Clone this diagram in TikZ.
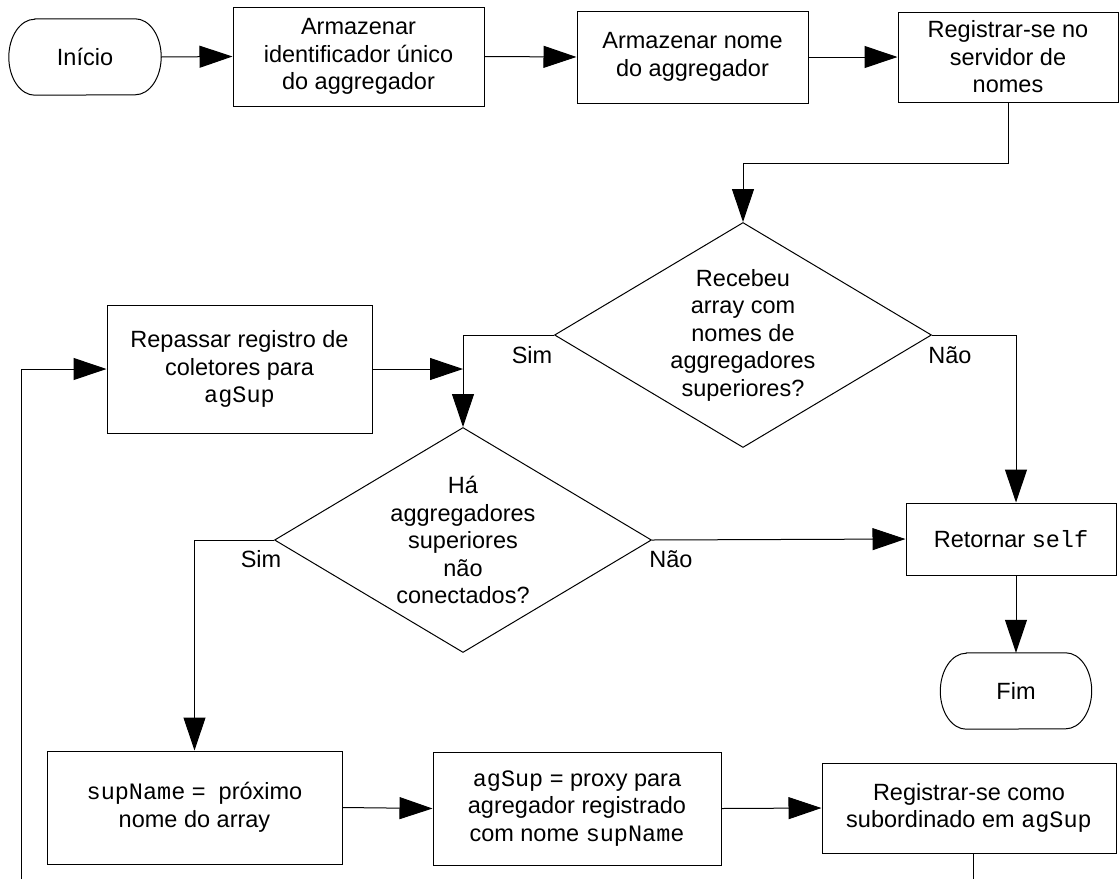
\documentclass[tikz,border=0pt]{standalone}
\usepackage{fontspec}
\setmainfont{Liberation Sans}
\setmonofont{Liberation Mono}
\usetikzlibrary{arrows.meta,shapes.geometric}

% outline of a terminal node: flat top and bottom, elliptical ends
\newcommand\drawterminal[1]{%
  \draw[flow] ([xshift=26pt]#1.north west) -- ([xshift=-26pt]#1.north east)
    arc[start angle=90,end angle=-90,x radius=26pt,y radius=38pt]
    -- ([xshift=26pt]#1.south west)
    arc[start angle=270,end angle=90,x radius=26pt,y radius=38pt] -- cycle;}

\begin{document}
\begin{tikzpicture}[x=1pt,y=-1pt,
  txt/.style={font=\fontsize{23.5}{27.5}\selectfont, align=center, inner sep=0pt},
  flow/.style={line width=1pt},
  proc/.style={txt, draw, line width=1pt},
  term/.style={txt, minimum width=152pt, minimum height=76pt},
  decision/.style={txt, draw, line width=1pt, diamond, shape aspect=1.676,
                   minimum width=377pt, minimum height=225pt},
  arr/.style={flow, -{Triangle[length=33pt,width=22pt]}},
  lbl/.style={txt}]
\useasboundingbox (0,0) rectangle (1120,879);

% top row
\node[term] (start) at (85,57) {Início};
\drawterminal{start}
\node[proc, minimum width=251pt, minimum height=99pt] (b1) at (358.5,56.5)
  {Armazenar\\identificador único\\do aggregador};
\node[proc, minimum width=231pt, minimum height=92pt] (b2) at (692.5,57)
  {Armazenar nome\\do aggregador};
\node[proc, minimum width=220pt, minimum height=90pt] (b3) at (1008,57)
  {Registrar-se no\\servidor de\\nomes};

% decisions and middle blocks
\node[decision] (d1) at (743,335)
  {Recebeu\\array com\\nomes de\\aggregadores\\superiores?};
\node[proc, minimum width=265pt, minimum height=128pt] (rep) at (239.5,369)
  {Repassar registro de\\coletores para\\\texttt{agSup}};
\node[decision] (d2) at (463,540)
  {Há\\aggregadores\\superiores\\não\\conectados?};
\node[proc, minimum width=210pt, minimum height=72pt] (ret) at (1011,539)
  {Retornar \texttt{self}};
\node[term, minimum width=151pt] (fim) at (1016,691) {Fim};
\drawterminal{fim}

% bottom row
\node[proc, minimum width=295pt, minimum height=113pt] (sup) at (194.5,807.5)
  {\texttt{supName} =\ \ próximo\\nome do array};
\node[proc, minimum width=288pt, minimum height=113pt] (ag) at (577,808.5)
  {\texttt{agSup} = proxy para\\agregador registrado\\com nome \texttt{supName}};
\node[proc, minimum width=294pt, minimum height=90pt] (reg) at (969,808)
  {Registrar-se como\\subordinado em \texttt{agSup}};

% branch labels
\node[lbl] (sim1) at (532,355) {Sim};
\node[lbl] (nao1) at (950,355) {Não};
\node[lbl] (sim2) at (261,559) {Sim};
\node[lbl] (nao2) at (671,559) {Não};

% loop ends leaving the lower edge
\coordinate (loopin) at (21,879);
\coordinate (regout) at (973,879);
\coordinate (bend) at (1008,163);

% connectors
\draw[arr] (start.east) -- (b1.west);
\draw[arr] (b1.east) -- (b2.west);
\draw[arr] (b2.east) -- (b3.west);
\draw[arr] (b3.south) -- (bend) -| (d1.north);
\draw[arr] (d1.west) -| (d2.north);
\draw[arr] (rep.east) -- (rep.east -| d2.north);
\draw[arr] (d1.east) -| (ret.north -| fim.north);
\draw[arr] (ret.south -| fim.north) -- (fim.north);
\draw[arr] (d2.east) -- (ret.west);
\draw[arr] (d2.west) -| (sup.north);
\draw[arr] (sup.east) -- (ag.west);
\draw[arr] (ag.east) -- (reg.west);
\draw[flow] (reg.south -| regout) -- (regout);
\draw[arr] (loopin) |- (rep.west);
\end{tikzpicture}
\end{document}
